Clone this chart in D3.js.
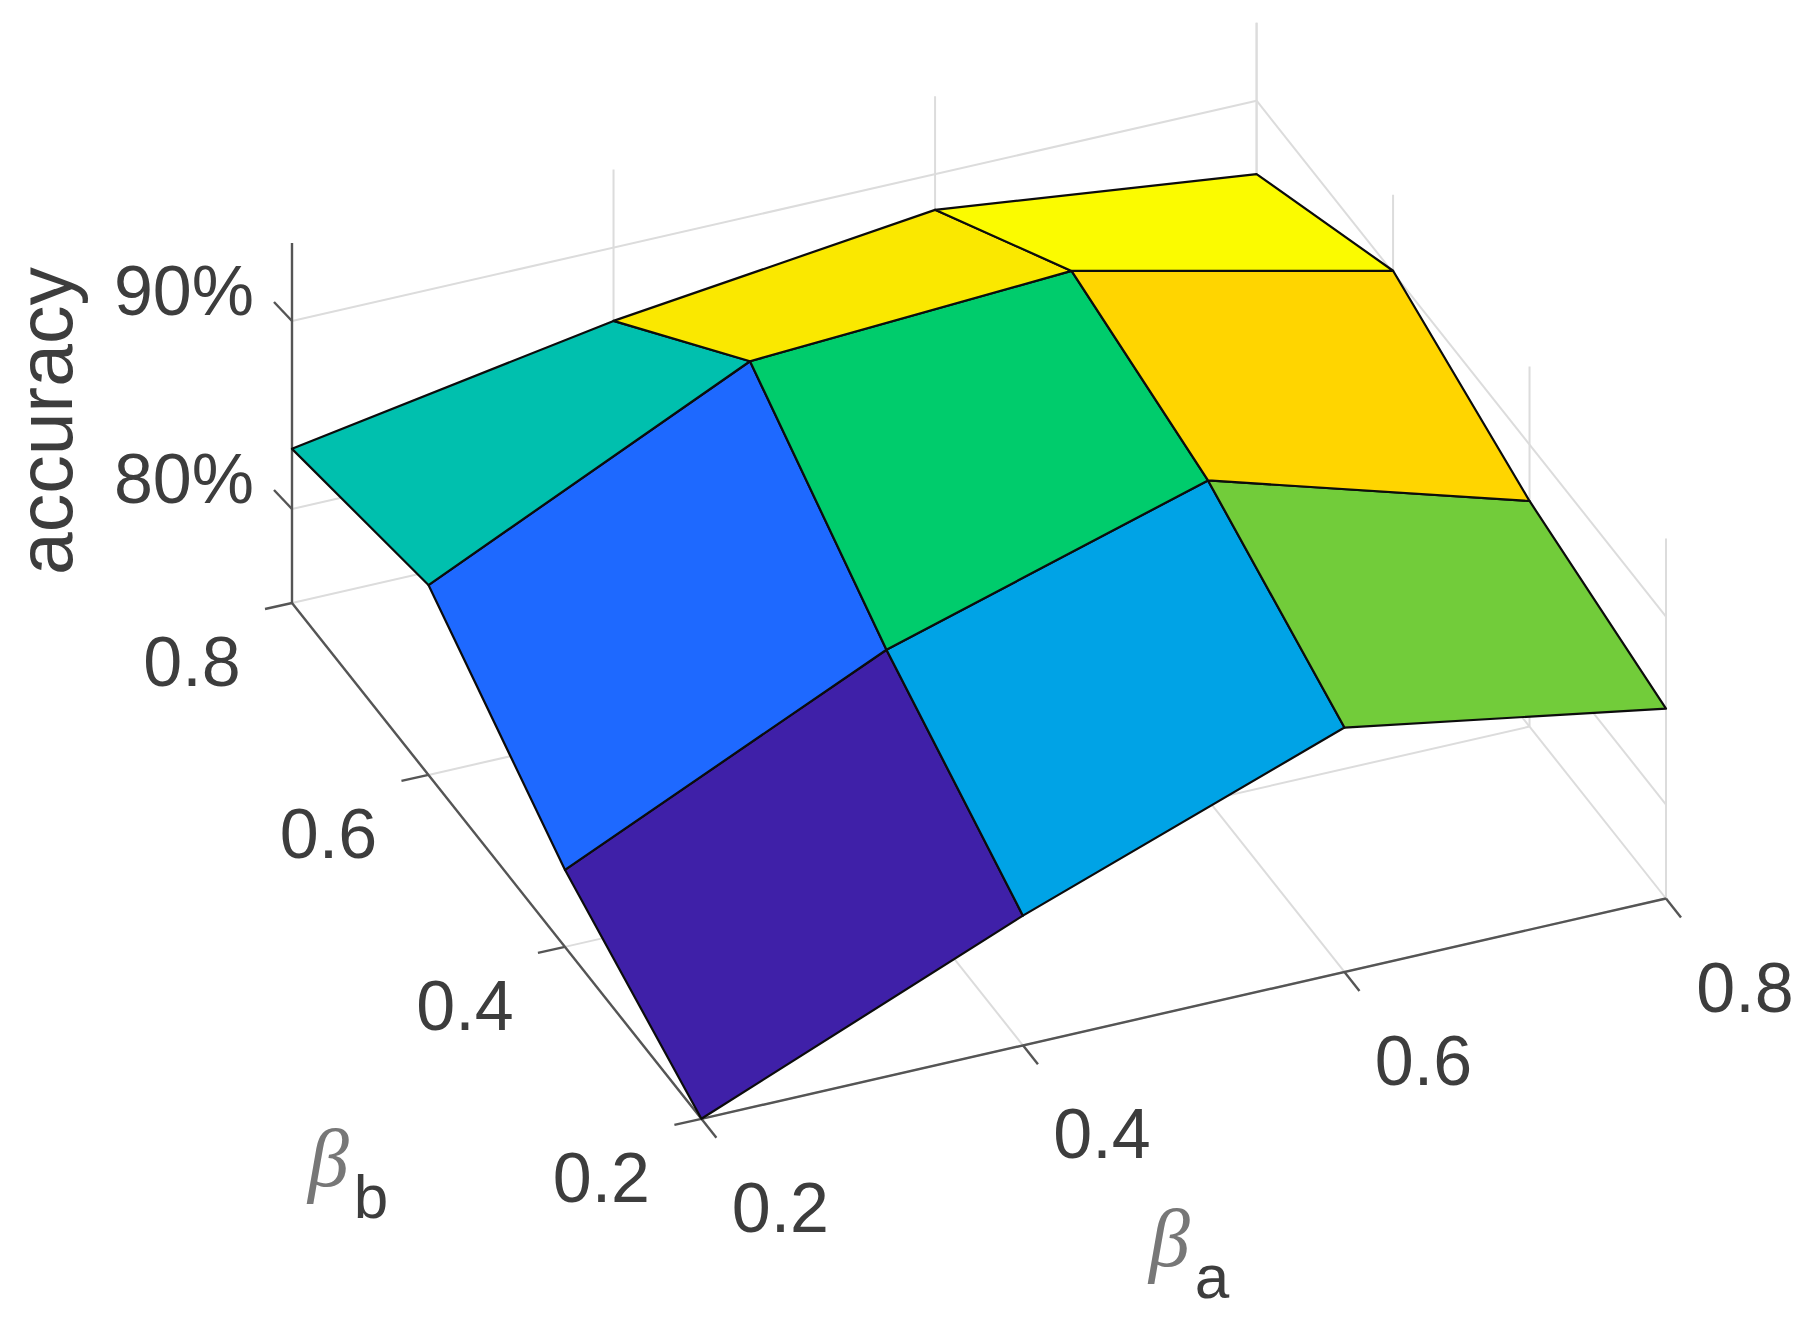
<!DOCTYPE html>
<html><head><meta charset="utf-8">
<script src="https://cdn.jsdelivr.net/npm/d3@7"></script>
<style>html,body{margin:0;padding:0;background:#fff}svg{display:block;filter:blur(0.6px)}text{font-family:"Liberation Sans",Arial,sans-serif;fill:#3d3d3d}</style>
</head><body><svg id="c" width="1818" height="1321"></svg>
<script>
const betaA = [0.2, 0.4, 0.6, 0.8];
const betaB = [0.2, 0.4, 0.6, 0.8];
const accuracyRows = [
  [75.0, 81.9, 88.0, 85.1],
  [79.1, 86.9, 92.0, 87.0],
  [85.1, 93.1, 94.0, 90.1],
  [83.2, 86.1, 88.1, 86.1]
];
const zTicks = [80, 90];
const zTickLabels = ["80%", "90%"];
const baTicks = ["0.2", "0.4", "0.6", "0.8"];
const bbTicks = ["0.2", "0.4", "0.6", "0.8"];
const faceColors = ["#3f20a8", "#1e69ff", "#00a3e6", "#00c0ae", "#00cc6c", "#72cc3a", "#ffd500", "#fae800", "#fbfb00"];

const svg = d3.select("#c");
const baX = d3.scaleLinear().domain([0.2, 0.8]).range([0, 964.6]);
const baY = d3.scaleLinear().domain([0.2, 0.8]).range([0, -220.3]);
const bbX = d3.scaleLinear().domain([0.2, 0.8]).range([0, -409.4]);
const bbY = d3.scaleLinear().domain([0.2, 0.8]).range([0, -515.8]);
const zS = d3.scaleLinear().domain([75, 94.15]).range([0, -360]);
const project = (a, b, z) => [701.4 + baX(a) + bbX(b), 1118.8 + baY(a) + bbY(b) + zS(z)];
const line = d3.line();
const zMin = 75, zMax = 94.15, aMin = 0.2, aMax = 0.8, bMin = 0.2, bMax = 0.8;

function seg(g, p, q, color, w) {
  g.append("path").attr("d", line([p, q])).attr("stroke", color).attr("stroke-width", w).attr("fill", "none");
}
const grid = svg.append("g");
const GC = "#dcdcdc", GW = 2;
betaA.forEach(a => {
  seg(grid, project(a, bMin, zMin), project(a, bMax, zMin), GC, GW);
  seg(grid, project(a, bMax, zMin), project(a, bMax, zMax), GC, GW);
});
betaB.forEach(b => {
  seg(grid, project(aMin, b, zMin), project(aMax, b, zMin), GC, GW);
  seg(grid, project(aMax, b, zMin), project(aMax, b, zMax), GC, GW);
});
zTicks.forEach(z => {
  seg(grid, project(aMin, bMax, z), project(aMax, bMax, z), GC, GW);
  seg(grid, project(aMax, bMax, z), project(aMax, bMin, z), GC, GW);
});

const axes = svg.append("g");
const AC = "#555", AW = 2.4;
seg(axes, project(aMin, bMin, zMin), project(aMax, bMin, zMin), AC, AW);
seg(axes, project(aMin, bMin, zMin), project(aMin, bMax, zMin), AC, AW);
seg(axes, project(aMin, bMax, zMin), project(aMin, bMax, zMax), AC, AW);
const off = (p, d) => [p[0] + d[0], p[1] + d[1]];
betaA.forEach((a, i) => {
  const p = project(a, bMin, zMin);
  seg(axes, p, off(p, [15, 19]), AC, AW);
  svg.append("text").attr("x", p[0] + 79).attr("y", p[1] + 89).attr("text-anchor", "middle")
     .attr("dominant-baseline", "central").attr("font-size", 70).text(baTicks[i]);
});
betaB.forEach((b, i) => {
  const p = project(aMin, b, zMin);
  seg(axes, p, off(p, [-27, 6]), AC, AW);
  svg.append("text").attr("x", p[0] - 100).attr("y", p[1] + 59).attr("text-anchor", "middle")
     .attr("dominant-baseline", "central").attr("font-size", 70).text(bbTicks[i]);
});
zTicks.forEach((z, i) => {
  const p = project(aMin, bMax, z);
  seg(axes, p, off(p, [-18, -19]), AC, AW);
  svg.append("text").attr("x", 254).attr("y", p[1] - 30).attr("text-anchor", "end")
     .attr("dominant-baseline", "central").attr("font-size", 70).text(zTickLabels[i]);
});

const surf = svg.append("g");
const values = accuracyRows.slice(0, 3).flatMap(r => r.slice(0, 3));
const colorOf = d3.scaleLinear().domain(values.slice().sort(d3.ascending)).range(faceColors);
betaB.slice(0, 3).forEach((b, j) => {
  betaA.slice(0, 3).forEach((a, i) => {
    const pts = [
      project(betaA[i], betaB[j], accuracyRows[j][i]),
      project(betaA[i + 1], betaB[j], accuracyRows[j][i + 1]),
      project(betaA[i + 1], betaB[j + 1], accuracyRows[j + 1][i + 1]),
      project(betaA[i], betaB[j + 1], accuracyRows[j + 1][i])
    ];
    surf.append("path").attr("d", line(pts) + "Z")
      .attr("fill", colorOf(accuracyRows[j][i]))
      .attr("stroke", "#0c0c0c").attr("stroke-width", 2.2).attr("stroke-linejoin", "round");
  });
});

svg.append("text").attr("transform", "translate(45,421) rotate(-90)").attr("text-anchor", "middle")
  .attr("dominant-baseline", "central").attr("font-size", 77).text("accuracy");
function betaLabel(x, y, sub) {
  const t = svg.append("text").attr("x", x).attr("y", y);
  t.append("tspan").attr("font-family", "Liberation Serif").attr("font-style", "italic").attr("font-size", 82).style("fill", "#777").text("β");
  t.append("tspan").attr("dx", 5).attr("dy", 32).attr("font-size", 62).text(sub);
}
betaLabel(308, 1186, "b");
betaLabel(1149, 1266, "a");
</script></body></html>
